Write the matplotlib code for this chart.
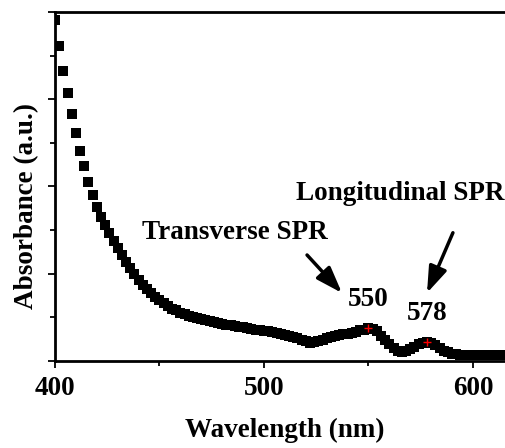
"""UV-vis absorbance spectrum with transverse and longitudinal SPR bands."""

import matplotlib
matplotlib.use("Agg")
import matplotlib.pyplot as plt
from matplotlib.ticker import MultipleLocator, NullFormatter

plt.rcParams["font.family"] = ["Liberation Serif", "DejaVu Serif"]
plt.rcParams["font.weight"] = "bold"

# wavelength grid (nm), one point every 2 nm
wavelength = list(range(400, 618, 2))
absorbance = [
    7.82, 7.21, 6.65, 6.14, 5.66, 5.22, 4.82, 4.46, 4.11, 3.81,
    3.54, 3.31, 3.12, 2.94, 2.76, 2.59, 2.43, 2.28, 2.14, 2.00,
    1.86, 1.74, 1.64, 1.55, 1.47, 1.39, 1.32, 1.26, 1.20, 1.16,
    1.11, 1.07, 1.04, 1.01, 0.98, 0.96, 0.93, 0.91, 0.89, 0.87,
    0.85, 0.83, 0.82, 0.80, 0.79, 0.77, 0.76, 0.74, 0.72, 0.71,
    0.69, 0.68, 0.66, 0.64, 0.62, 0.60, 0.57, 0.55, 0.52, 0.48,
    0.45, 0.42, 0.44, 0.46, 0.49, 0.52, 0.54, 0.57, 0.59, 0.61,
    0.63, 0.65, 0.67, 0.70, 0.72, 0.75, 0.73, 0.68, 0.58, 0.48,
    0.38, 0.29, 0.23, 0.21, 0.23, 0.27, 0.32, 0.38, 0.42, 0.44,
    0.42, 0.37, 0.30, 0.24, 0.20, 0.17, 0.15, 0.14, 0.14, 0.14,
    0.13, 0.13, 0.13, 0.14, 0.14, 0.14, 0.14, 0.14, 0.14,
]

peak_nm = [550, 578]
peak_abs = [0.75, 0.44]
peak_labels = ["550", "578"]

fig = plt.figure(figsize=(5.06, 4.48), dpi=100)
ax = fig.add_axes([55 / 506, 87 / 448, 451 / 506, 349 / 448])

ax.plot(wavelength, absorbance, "s", color="black", ms=7.2, mew=0)
ax.plot(peak_nm, peak_abs, "+", color="red", ms=6, mew=1, zorder=3)

ax.set_xlim(400, 615.8)
ax.set_ylim(0, 8)

ax.xaxis.set_major_locator(MultipleLocator(100))
ax.xaxis.set_minor_locator(MultipleLocator(50))
ax.yaxis.set_major_locator(MultipleLocator(2))
ax.yaxis.set_minor_locator(MultipleLocator(1))
ax.yaxis.set_major_formatter(NullFormatter())

ax.tick_params(which="both", direction="out", width=1.3)
ax.tick_params(which="major", length=5)
ax.tick_params(which="minor", length=3.5)
ax.tick_params(axis="x", labelsize=19.5, pad=6)

for side in ["left", "bottom", "top"]:
    ax.spines[side].set_linewidth(2)
ax.spines["right"].set_visible(False)

ax.set_xlabel("Wavelength (nm)", fontsize=19.5, fontweight="bold", va="center")
ax.xaxis.set_label_coords(0.51, -0.198)
ax.set_ylabel("Absorbance (a.u.)", fontsize=19.5, fontweight="bold", va="center")
ax.yaxis.set_label_coords(-0.064, 0.444)

txt = dict(fontsize=19.5, fontweight="bold", ha="center", va="center")
ax.text(550, 1.40, peak_labels[0], **txt)
ax.text(578, 1.08, peak_labels[1], **txt)
ax.text(486, 2.94, "Transverse SPR", **txt)
ax.text(565, 3.85, "Longitudinal SPR", **txt)

arrow = dict(arrowstyle="-|>,head_length=0.8,head_width=0.28", color="black",
             lw=2.5, mutation_scale=20, shrinkA=0, shrinkB=0)
ax.annotate("", xy=(537.3, 1.56), xytext=(520.6, 2.43), arrowprops=arrow)
ax.annotate("", xy=(578, 1.56), xytext=(590.4, 2.94), arrowprops=arrow)

fig.savefig("out.png", dpi=100)
